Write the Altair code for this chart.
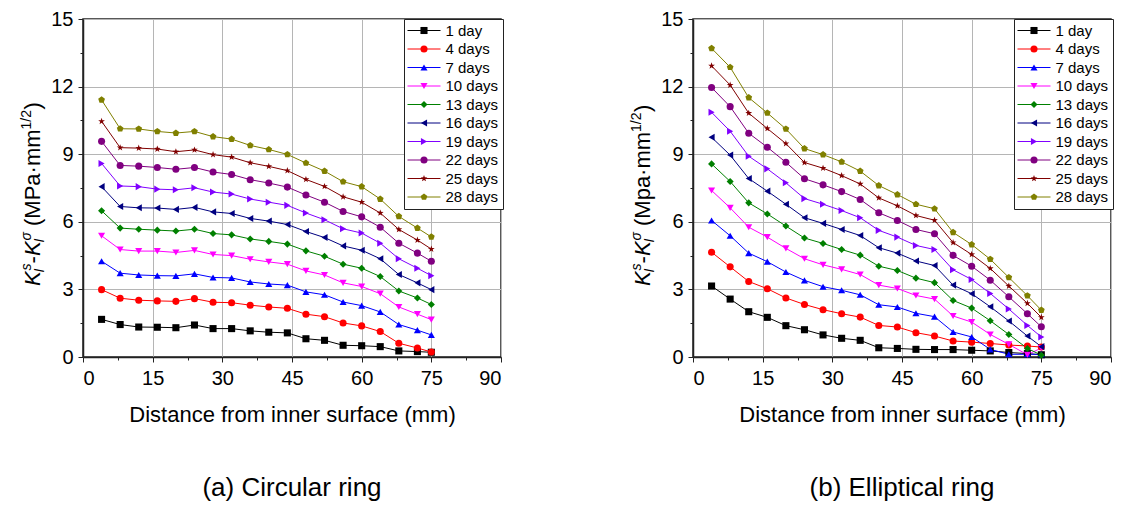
import altair as alt
import pandas as pd

# ---------------- data ----------------
distance = [4, 8, 12, 16, 20, 24, 28, 32, 36, 40, 44, 48, 52, 56, 60, 64, 68, 72, 75]
NB = "\u00a0\u00a0"
series_names = [NB + "1 day", NB + "4 days", NB + "7 days", "10 days", "13 days",
                "16 days", "19 days", "22 days", "25 days", "28 days"]

# (a) circular ring
circ_1 = [1.67, 1.44, 1.33, 1.32, 1.30, 1.42, 1.26, 1.26, 1.16, 1.10, 1.07, 0.81, 0.74, 0.52, 0.50, 0.46, 0.27, 0.24, 0.21]
circ_4 = [2.99, 2.61, 2.52, 2.49, 2.47, 2.59, 2.43, 2.41, 2.30, 2.22, 2.16, 1.90, 1.79, 1.51, 1.38, 1.13, 0.61, 0.40, 0.22]
circ_7 = [4.25, 3.72, 3.64, 3.61, 3.60, 3.69, 3.53, 3.51, 3.33, 3.24, 3.19, 2.89, 2.76, 2.44, 2.28, 2.00, 1.44, 1.19, 0.98]
circ_10 = [5.38, 4.77, 4.70, 4.70, 4.64, 4.73, 4.55, 4.50, 4.34, 4.22, 4.12, 3.82, 3.64, 3.29, 3.13, 2.81, 2.22, 1.90, 1.66]
circ_13 = [6.49, 5.72, 5.67, 5.63, 5.59, 5.67, 5.48, 5.42, 5.24, 5.13, 5.01, 4.71, 4.47, 4.12, 3.94, 3.57, 2.93, 2.62, 2.33]
circ_16 = [7.56, 6.68, 6.62, 6.61, 6.55, 6.64, 6.44, 6.37, 6.15, 6.03, 5.88, 5.57, 5.30, 4.93, 4.74, 4.36, 3.66, 3.29, 2.99]
circ_19 = [8.59, 7.59, 7.56, 7.45, 7.42, 7.51, 7.32, 7.23, 7.01, 6.87, 6.73, 6.39, 6.09, 5.69, 5.50, 5.05, 4.36, 3.94, 3.61]
circ_22 = [9.57, 8.50, 8.47, 8.41, 8.33, 8.41, 8.21, 8.10, 7.87, 7.72, 7.54, 7.19, 6.87, 6.46, 6.22, 5.76, 5.05, 4.61, 4.25]
circ_25 = [10.46, 9.29, 9.27, 9.23, 9.11, 9.19, 8.98, 8.87, 8.62, 8.46, 8.27, 7.88, 7.57, 7.11, 6.87, 6.39, 5.66, 5.19, 4.79]
circ_28 = [11.41, 10.13, 10.12, 10.01, 9.94, 10.01, 9.78, 9.67, 9.39, 9.21, 8.99, 8.61, 8.25, 7.78, 7.56, 7.01, 6.24, 5.72, 5.33]

# (b) elliptical ring
ell_1 = [3.15, 2.57, 2.01, 1.76, 1.39, 1.21, 0.98, 0.83, 0.74, 0.41, 0.38, 0.34, 0.33, 0.33, 0.30, 0.27, 0.20, 0.15, 0.10]
ell_4 = [4.65, 4.00, 3.35, 3.03, 2.62, 2.33, 2.10, 1.92, 1.77, 1.40, 1.33, 1.08, 0.93, 0.71, 0.66, 0.60, 0.53, 0.49, 0.44]
ell_7 = [6.06, 5.38, 4.61, 4.23, 3.77, 3.40, 3.12, 2.96, 2.76, 2.32, 2.22, 1.94, 1.79, 1.11, 0.89, 0.34, 0.12, 0.12, 0.12]
ell_10 = [7.39, 6.62, 5.76, 5.32, 4.82, 4.36, 4.09, 3.89, 3.66, 3.19, 3.04, 2.73, 2.57, 1.82, 1.55, 1.00, 0.56, 0.10, 0.40]
ell_13 = [8.57, 7.79, 6.84, 6.35, 5.81, 5.28, 5.04, 4.77, 4.52, 4.03, 3.84, 3.50, 3.30, 2.51, 2.17, 1.61, 1.00, 0.38, 0.08]
ell_16 = [9.75, 8.96, 7.92, 7.36, 6.78, 6.18, 5.93, 5.66, 5.39, 4.85, 4.61, 4.26, 4.06, 3.19, 2.81, 2.23, 1.60, 0.93, 0.46]
ell_19 = [10.86, 10.02, 8.91, 8.35, 7.73, 7.03, 6.78, 6.50, 6.18, 5.62, 5.32, 4.95, 4.77, 3.87, 3.44, 2.82, 2.13, 1.40, 0.89]
ell_22 = [11.96, 11.11, 9.93, 9.31, 8.64, 7.91, 7.64, 7.34, 6.99, 6.40, 6.06, 5.66, 5.47, 4.51, 4.03, 3.41, 2.67, 1.92, 1.34]
ell_25 = [12.92, 12.07, 10.82, 10.14, 9.47, 8.63, 8.38, 8.05, 7.68, 7.06, 6.71, 6.28, 6.07, 5.08, 4.55, 3.93, 3.15, 2.38, 1.76]
ell_28 = [13.70, 12.86, 11.51, 10.83, 10.12, 9.25, 8.98, 8.66, 8.25, 7.61, 7.21, 6.78, 6.58, 5.53, 4.99, 4.34, 3.53, 2.72, 2.08]

x_ticks = [0, 15, 30, 45, 60, 75, 90]
x_minor = [7.5, 22.5, 37.5, 52.5, 67.5, 82.5]
y_ticks = [0, 3, 6, 9, 12, 15]
y_minor = [1.5, 4.5, 7.5, 10.5, 13.5]

colors = ["#000000", "#ff0000", "#0000ff", "#ff00ff", "#008000",
          "#000080", "#8000ff", "#800080", "#800000", "#808000"]
STAR = ("M0,-1L0.235,-0.324L0.951,-0.309L0.38,0.124L0.588,0.809L0,0.4"
        "L-0.588,0.809L-0.38,0.124L-0.951,-0.309L-0.235,-0.324Z")
PENTAGON = "M0,-1L0.951,-0.309L0.588,0.809L-0.588,0.809L-0.951,-0.309Z"
shapes = ["square", "circle", "triangle-up", "triangle-down", "diamond",
          "triangle-left", "triangle-right", "circle", STAR, PENTAGON]

FONT = "Liberation Sans"
W, H = 418, 338
MARK_SIZE = 50


def long_df(series_values):
    rows = []
    for name, vals in zip(series_names, series_values):
        for d, v in zip(distance, vals):
            rows.append({"distance": d, "value": v, "series": name})
    return pd.DataFrame(rows)


df_circ = long_df([circ_1, circ_4, circ_7, circ_10, circ_13, circ_16, circ_19, circ_22, circ_25, circ_28])
df_ell = long_df([ell_1, ell_4, ell_7, ell_10, ell_13, ell_16, ell_19, ell_22, ell_25, ell_28])

x_scale = alt.Scale(domain=[0, 90], nice=False)
y_scale = alt.Scale(domain=[0, 15], nice=False)
color_scale = alt.Scale(domain=series_names, range=colors)
shape_scale = alt.Scale(domain=series_names, range=shapes)

LEG_X = 321
common_leg = dict(orient="none", legendX=LEG_X, legendY=0, direction="vertical", title=None,
                  padding=4, rowPadding=2.5, symbolOffset=8.5, labelOffset=14,
                  labelFontSize=15, labelFont=FONT)

line_legend = alt.Legend(symbolType="M-3,0H3", symbolSize=121, symbolStrokeWidth=1,
                         labelColor="black", fillColor="white", strokeColor="#222222",
                         **common_leg)
point_legend = alt.Legend(symbolSize=MARK_SIZE, labelColor="transparent", **common_leg)

major_x = alt.Axis(values=x_ticks, grid=True, tickSize=5, labelPadding=6, orient="bottom",
                   title="Distance from inner surface (mm)", titlePadding=16)
minor_x = alt.Axis(values=x_minor, grid=False, tickSize=3, labels=False, domain=False,
                   title=None, orient="bottom")
major_y = alt.Axis(values=y_ticks, grid=True, tickSize=5, labelPadding=5, title=None, orient="left")
minor_y = alt.Axis(values=y_minor, grid=False, tickSize=3, labels=False, domain=False,
                   title=None, orient="left")

TX = -43     # baseline of the rotated y title, relative to the plot's left edge
TY = 267     # start (bottom end) of the rotated y title


def title_piece(text, dx, dy, size, italic):
    kw = dict(text=text, angle=270, align="left", baseline="alphabetic",
              font=FONT, fontSize=size, dx=dx, dy=dy, color="black")
    if italic:
        kw["fontStyle"] = "italic"
    return alt.Chart(alt.Data(values=[{"k": 0}])).mark_text(**kw).encode(
        x=alt.value(TX), y=alt.value(TY))


def y_title(unit_text, unit_width):
    pieces = [
        ("K", 0, 0, 22, True),
        ("s", 15.5, -9, 14, True),
        ("I", 13.5, 4, 14, True),
        ("-", 22.5, 0, 22, False),
        ("K", 30, 0, 22, True),
        ("\u03c3", 45.5, -9, 14, True),
        ("I", 43.5, 4, 14, True),
        (unit_text, 60, 0, 22, False),
        ("1/2", 60 + unit_width, -9, 14, False),
        (")", 60 + unit_width + 20, 0, 22, False),
    ]
    return [title_piece(*p) for p in pieces]


def panel(df, unit_text, unit_width, caption):
    base = alt.Chart(df)
    lines = base.mark_line(strokeWidth=1).encode(
        x=alt.X("distance:Q", scale=x_scale, axis=major_x),
        y=alt.Y("value:Q", scale=y_scale, axis=major_y),
        color=alt.Color("series:N", scale=color_scale, legend=line_legend),
    )
    points = base.mark_point(filled=True, size=MARK_SIZE, opacity=1).encode(
        x=alt.X("distance:Q", scale=x_scale, axis=minor_x),
        y=alt.Y("value:Q", scale=y_scale, axis=minor_y),
        color=alt.Color("series:N", scale=color_scale, legend=point_legend),
        shape=alt.Shape("series:N", scale=shape_scale, legend=point_legend),
    )
    return alt.layer(lines, points, *y_title(unit_text, unit_width)).resolve_scale(
        color="independent", shape="independent"
    ).resolve_axis(x="independent", y="independent").properties(
        width=W, height=H,
        title=alt.TitleParams(text=caption, orient="bottom", anchor="middle", frame="group",
                              fontSize=26, font=FONT, fontWeight="normal", color="black", offset=50),
    )


left = panel(df_circ, "(MPa\u00b7mm", 96.5, "(a) Circular ring")
right = panel(df_ell, "(Mpa\u00b7mm", 94.0, "(b) Elliptical ring")

chart = alt.hconcat(left, right, spacing=124).properties(
    padding={"left": 11, "top": 0, "right": 0, "bottom": 0}
).configure(
    font=FONT,
).configure_view(
    stroke="#222222", strokeWidth=1.5
).configure_axis(
    labelFont=FONT, titleFont=FONT, labelFontSize=20, titleFontSize=22,
    titleFontWeight="normal", labelColor="black", titleColor="black",
    domainColor="#222222", domainWidth=1.5, tickColor="#222222", tickWidth=1,
    gridColor="#b5b5b5", gridWidth=1,
)

chart.save("out.html", embed_options={"renderer": "svg", "actions": False})
